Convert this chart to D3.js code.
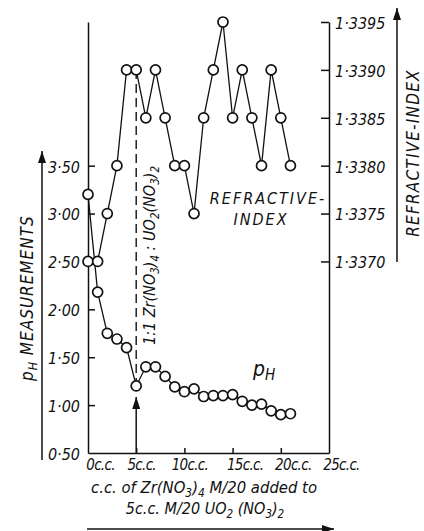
<!DOCTYPE html>
<html>
<head>
<meta charset="utf-8">
<script src="https://cdn.jsdelivr.net/npm/d3@7"></script>
<style>
body { margin: 0; background: #fff; }
text {
  font-family: "DejaVu Sans Condensed", "DejaVu Sans", sans-serif;
  font-stretch: condensed;
  font-style: italic;
  fill: #111;
}
.axis path, .axis line { stroke: #111; stroke-width: 1.5; }
</style>
</head>
<body>
<div id="chart"></div>
<script>
var width = 424,
  height = 531;

// c.c. of Zr(NO3)4 added
var volume = [0, 1, 2, 3, 4, 5, 6, 7, 8, 9, 10, 11, 12, 13, 14, 15, 16, 17, 18, 19, 20, 21];
var ph = [3.20, 2.18, 1.75, 1.69, 1.60, 1.20, 1.40, 1.40, 1.30, 1.19, 1.14, 1.17,
  1.09, 1.10, 1.10, 1.11, 1.04, 1.00, 1.01, 0.94, 0.90, 0.91];
var refractive = [1.3370, 1.3370, 1.3375, 1.3380, 1.3390, 1.3390, 1.3385, 1.3390,
  1.3385, 1.3380, 1.3380, 1.3375, 1.3385, 1.3390, 1.3395, 1.3385, 1.3390, 1.3385,
  1.3380, 1.3390, 1.3385, 1.3380];

var phTicks = [0.5, 1.0, 1.5, 2.0, 2.5, 3.0, 3.5];
var riTicks = [1.3370, 1.3375, 1.3380, 1.3385, 1.3390, 1.3395];
var volumeTicks = [0, 5, 10, 15, 20, 25];

var x = d3.scaleLinear().domain([0, 25]).range([88, 329]);
var yPh = d3.scaleLinear().domain([0.5, 5.0]).range([453, 22]);
var yRi = d3.scaleLinear().domain([1.3350, 1.3395]).range([453, 22]);

var svg = d3.select("#chart").append("svg")
  .attr("width", width)
  .attr("height", height);

// little helper for text with subscripts
function rich(t, parts) {
  var shift = 0;
  parts.forEach(function(p) {
    var s = p[1] ? 4 : 0;
    t.append("tspan")
      .attr("dy", s - shift)
      .attr("font-size", p[1] ? "0.72em" : null)
      .text(p[0]);
    shift = s;
  });
  return t;
}

function dotFmt(f) {
  return function(d) { return d3.format(f)(d).replace(".", "\u00b7"); };
}

// left axis (pH)
var leftAxis = svg.append("g")
  .attr("class", "axis")
  .attr("transform", "translate(" + x(0) + ",0)")
  .call(d3.axisLeft(yPh).tickValues(phTicks).tickSize(-7).tickSizeOuter(0)
    .tickPadding(8).tickFormat(dotFmt(".2f")));
leftAxis.selectAll("text").attr("font-size", 16).attr("font-family", null).attr("dy", "0.4em");
leftAxis.selectAll(".tick").filter(function(d) { return d === 0.5; }).select("line").remove();

// right axis (refractive index)
var rightAxis = svg.append("g")
  .attr("class", "axis")
  .attr("transform", "translate(" + x(25) + ",0)")
  .call(d3.axisRight(yRi).tickValues(riTicks).tickSize(-8).tickSizeOuter(0)
    .tickPadding(6).tickFormat(dotFmt(".4f")));
rightAxis.selectAll("text").attr("font-size", 16).attr("font-family", null).attr("dy", "0.4em");

// bottom axis
var bottomAxis = svg.append("g")
  .attr("class", "axis")
  .attr("transform", "translate(0," + yPh(0.5) + ")")
  .call(d3.axisBottom(x).tickValues(volumeTicks).tickSize(-5).tickSizeOuter(0)
    .tickPadding(6).tickFormat(function(d) { return d + "c.c."; }));
bottomAxis.selectAll("text").attr("font-size", 15).attr("font-family", null)
  .attr("letter-spacing", -0.7)
  .attr("dx", function(d) { return d === 0 || d >= 15 ? 12 : 5; });
bottomAxis.selectAll(".tick").filter(function(d) { return d === 0 || d === 25; }).select("line").remove();

// arrowheads
var defs = svg.append("defs");
defs.append("marker")
  .attr("id", "arrow")
  .attr("viewBox", "0 0 12 8")
  .attr("refX", 12).attr("refY", 4)
  .attr("markerWidth", 12).attr("markerHeight", 8)
  .attr("markerUnits", "userSpaceOnUse")
  .attr("orient", "auto")
  .append("path")
  .attr("d", "M0,0L12,4L0,8Z")
  .attr("fill", "#111");

// 1:1 dashed marker line at 5 c.c.
svg.append("line")
  .attr("x1", x(5)).attr("x2", x(5))
  .attr("y1", yRi(refractive[5])).attr("y2", yPh(ph[5]))
  .attr("stroke", "#111").attr("stroke-width", 1.4)
  .attr("stroke-dasharray", "9,5");

svg.append("line")
  .attr("x1", x(5)).attr("x2", x(5))
  .attr("y1", yPh(0.5)).attr("y2", yPh(ph[5]) + 11)
  .attr("stroke", "#111").attr("stroke-width", 1.5)
  .attr("marker-end", "url(#arrow)");

// series lines
var riLine = d3.line()
  .x(function(d, i) { return x(volume[i]); })
  .y(function(d) { return yRi(d); });
var phLine = d3.line()
  .x(function(d, i) { return x(volume[i]); })
  .y(function(d) { return yPh(d); });

svg.append("path").datum(refractive)
  .attr("d", riLine).attr("fill", "none")
  .attr("stroke", "#111").attr("stroke-width", 1.3);
svg.append("path").datum(ph)
  .attr("d", phLine).attr("fill", "none")
  .attr("stroke", "#111").attr("stroke-width", 1.3);

svg.append("g").selectAll("circle")
  .data(refractive)
  .enter().append("circle")
  .attr("cx", function(d, i) { return x(volume[i]); })
  .attr("cy", function(d) { return yRi(d); })
  .attr("r", 5)
  .attr("fill", "#fff").attr("stroke", "#111").attr("stroke-width", 1.7);

svg.append("g").selectAll("circle")
  .data(ph)
  .enter().append("circle")
  .attr("cx", function(d, i) { return x(volume[i]); })
  .attr("cy", function(d) { return yPh(d); })
  .attr("r", 5)
  .attr("fill", "#fff").attr("stroke", "#111").attr("stroke-width", 1.7);

// outer arrows
svg.append("line")
  .attr("x1", 42).attr("x2", 42).attr("y1", 460).attr("y2", 151)
  .attr("stroke", "#111").attr("stroke-width", 1.5).attr("marker-end", "url(#arrow)");
svg.append("line")
  .attr("x1", 397).attr("x2", 397).attr("y1", 262).attr("y2", 8)
  .attr("stroke", "#111").attr("stroke-width", 1.5).attr("marker-end", "url(#arrow)");
svg.append("line")
  .attr("x1", 87).attr("x2", 334).attr("y1", 529).attr("y2", 529)
  .attr("stroke", "#111").attr("stroke-width", 1.5).attr("marker-end", "url(#arrow)");

// labels
rich(svg.append("text")
  .attr("transform", "translate(33,381) rotate(-90)")
  .attr("font-size", 17).attr("letter-spacing", 1),
  [["p", false], ["H", true], [" MEASUREMENTS", false]]);

svg.append("text")
  .attr("transform", "translate(419,153) rotate(-90)")
  .attr("text-anchor", "middle")
  .attr("font-size", 17).attr("letter-spacing", 1.2)
  .text("REFRACTIVE-INDEX");

rich(svg.append("text")
  .attr("transform", "translate(155,345) rotate(-90)")
  .attr("font-size", 16),
  [["1:1 Zr(NO", false], ["3", true], [")", false], ["4", true],
   [" : UO", false], ["2", true], ["(NO", false], ["3", true], [")", false], ["2", true]]);

svg.append("text")
  .attr("x", 268).attr("y", 204)
  .attr("text-anchor", "middle")
  .attr("font-size", 16).attr("letter-spacing", 2)
  .text("REFRACTIVE-");
svg.append("text")
  .attr("x", 261).attr("y", 225)
  .attr("text-anchor", "middle")
  .attr("font-size", 16).attr("letter-spacing", 2)
  .text("INDEX");

rich(svg.append("text")
  .attr("x", 253).attr("y", 376)
  .attr("font-size", 21),
  [["p", false], ["H", true]]);

rich(svg.append("text")
  .attr("x", 204).attr("y", 493)
  .attr("text-anchor", "middle")
  .attr("font-size", 16.5),
  [["c.c. of Zr(NO", false], ["3", true], [")", false], ["4", true], [" M/20 added to", false]]);

rich(svg.append("text")
  .attr("x", 205).attr("y", 514)
  .attr("text-anchor", "middle")
  .attr("font-size", 16),
  [["5c.c. M/20 UO", false], ["2", true], [" (NO", false], ["3", true], [")", false], ["2", true]]);
</script>
</body>
</html>
